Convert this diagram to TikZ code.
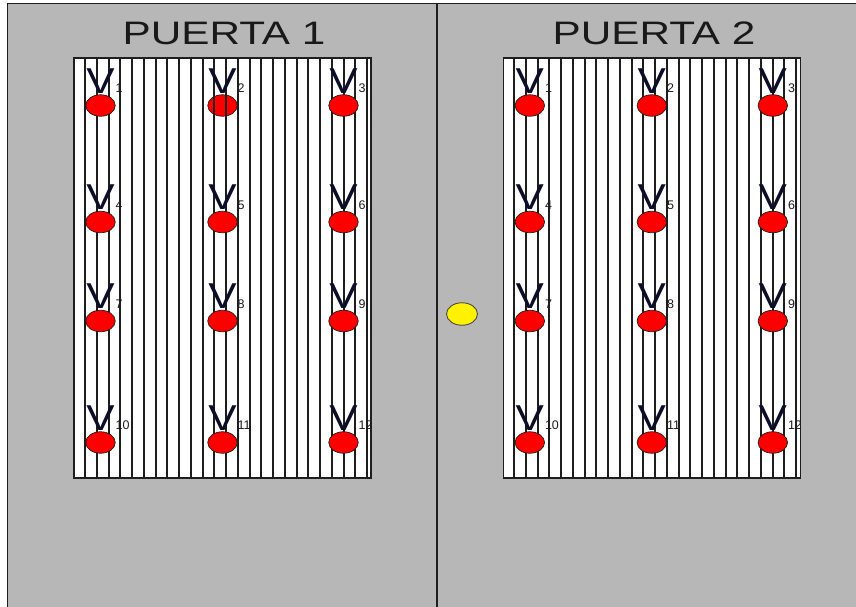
\documentclass[tikz,border=0pt]{standalone}
\usepackage{fontspec}
\setmainfont{Liberation Sans}
\usetikzlibrary{shapes.geometric}
\definecolor{bgray}{RGB}{183,183,183}
\definecolor{ink}{RGB}{30,30,30}
\definecolor{vink}{RGB}{12,14,40}
\tikzset{
  frameline/.style={draw=ink, line width=1.6pt},
  panelbox/.style={draw=ink, fill=white, line width=1.4pt, minimum width=297pt, minimum height=420pt, inner sep=0pt, outer sep=0pt},
  stripe/.style={draw=ink, line width=1.5pt},
  redell/.style={ellipse, draw=ink, line width=0.7pt, fill=red, minimum width=29.5pt, minimum height=21.5pt, inner sep=0pt},
  yelell/.style={ellipse, draw=ink!80, line width=0.9pt, fill=yellow, minimum width=31pt, minimum height=22.5pt, inner sep=0pt},
  vlet/.style={anchor=south, inner sep=0pt, text=vink, font=\fontsize{36}{37}\selectfont},
  numlab/.style={anchor=base west, inner sep=0pt, text=ink, font=\fontsize{12.5}{14}\selectfont},
  titletxt/.style={inner sep=0pt, text=black!90, font=\fontsize{32.5}{34}\selectfont}
}
\begin{document}
\begin{tikzpicture}[x=1pt,y=-1pt]
\useasboundingbox (0,0) rectangle (856,607);
\fill[white] (0,0) rectangle (856,607);
\fill[bgray] (8,4) rectangle (856,607);
% frame
\coordinate (tl) at (7.5,3.5);
\coordinate (tr) at (856,3.5);
\coordinate (bl) at (7.5,607);
\coordinate (dtop) at (437,4);
\coordinate (dbot) at (437,607);
\draw[frameline] (tr) -- (tl) -- (bl);
\draw[frameline, line width=1.4pt] (dtop) -- (dbot);
% titles
\node[titletxt] (t1) at (224,33.4) {\scalebox{1.3}[1]{PUERTA 1}};
\node[titletxt] (t2) at (654,33.4) {\scalebox{1.3}[1]{PUERTA 2}};
% panels
\node[panelbox] (p1) at (222.5,268) {};
\node[panelbox] (p2) at (652,268) {};
% the striped-over ellipse (left panel, V2)
\node[redell] (e-a-2) at (222.5,105.5) {};
% stripes
\foreach \k in {0,...,24}{
  \pgfmathsetmacro\xa{round(85+\k*11.75)}
  \pgfmathsetmacro\xb{round(514+\k*11.75)}
  \draw[stripe] (\xa,58) -- (\xa,478);
  \draw[stripe] (\xb,58) -- (\xb,478);
}
\draw[ink, line width=1.4pt] (p1.north west) rectangle (p1.south east);
\draw[ink, line width=1.4pt] (p2.north west) rectangle (p2.south east);
% markers
\foreach \pn/\off in {a/0, b/429.3}{
  \foreach \cxx/\p in {100.5/1, 222.5/2, 343.5/3}{
    \foreach \cy/\r in {105.5/0, 222/1, 321/2, 442.5/3}{
      \pgfmathtruncatemacro\num{\r*3+\p}
      \pgfmathsetmacro\cx{\cxx+\off}
      \ifnum\num=2 \if a\pn\relax\else
        \node[redell] (e-\pn-\num) at (\cx,\cy) {};
      \fi\else
        \node[redell] (e-\pn-\num) at (\cx,\cy) {};
      \fi
      \node[vlet] (v-\pn-\num) at (\cx,\cy-12) {\scalebox{1.18}[1]{V}};
      \node[numlab] (n-\pn-\num) at (\cx+15,\cy-13) {\num};
    }
  }
}
% knob
\node[yelell] (knob) at (462,314) {};
\end{tikzpicture}
\end{document}
